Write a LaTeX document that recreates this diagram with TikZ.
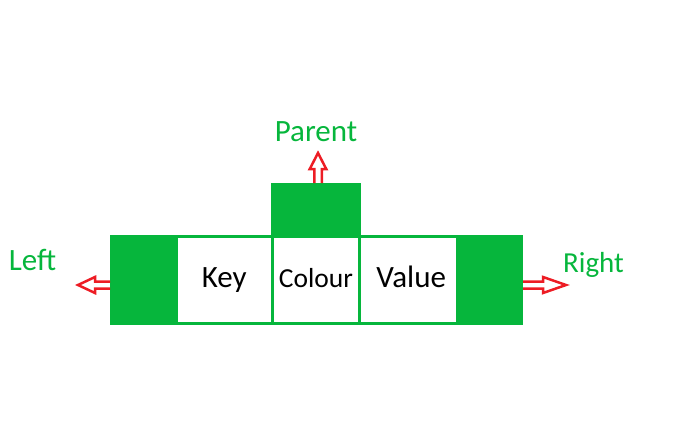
\documentclass[tikz,border=0pt]{standalone}
\usepackage{fontspec}
\setmainfont{Carlito}
\definecolor{nodegreen}{RGB}{6,182,60}
\definecolor{linkred}{RGB}{237,28,36}

\tikzset{
  block/.style={fill=nodegreen, minimum height=90pt, inner sep=0pt, outer sep=0pt},
  cell/.style={draw=nodegreen, line width=3pt, minimum height=87pt, inner sep=0pt, outer sep=0pt,
    text height=20pt, text depth=6pt, font=\fontsize{31}{33}\selectfont},
  tag/.style={text=nodegreen, anchor=base, inner sep=0pt, font=\fontsize{31}{33}\selectfont},
  hollow/.style={draw=linkred, line width=2.5pt, line join=miter}
}

\begin{document}
\begin{tikzpicture}[x=1pt,y=-1pt]
\useasboundingbox (0,0) rectangle (691,442);

% the three middle cells
\node[cell, minimum width=96.5pt] (key) at (224.25,280) {Key};
\node[cell, minimum width=87pt, font=\fontsize{27.5}{29}\selectfont] (colour) at (316,280) {Colour};
\node[cell, minimum width=97.5pt] (value) at (408.25,280) {\hspace{6pt}Value};

% pointer blocks
\node[block, minimum width=67pt] (leftblk) at (143.5,280) {};
\node[block, minimum width=66pt] (rightblk) at (490,280) {};
\node[block, minimum width=90pt, minimum height=54pt] (parentblk) at (316,210) {};

% labels
\node[tag] (parent) at (316,141) {Parent};
\node[tag] (left) at (32.5,270) {Left};
\node[tag, font=\fontsize{29}{31}\selectfont] (right) at (593.5,272) {Right};

% hollow arrows
\draw[hollow] ([xshift=-1.75pt]parentblk.north) -- ++(0,-14) -- ++(-4.5,0) -- ++(8.25,-16)
  -- ++(8.25,16) -- ++(-4.5,0) -- ++(0,14);
\draw[hollow] ([yshift=-1.5pt]leftblk.west) -- ++(-15,0) -- ++(0,-4.5) -- ++(-17,8)
  -- ++(17,8) -- ++(0,-4.5) -- ++(15,0);
\draw[hollow] ([yshift=-1.5pt]rightblk.east) -- ++(20,0) -- ++(0,-4.5) -- ++(23,8)
  -- ++(-23,8) -- ++(0,-4.5) -- ++(-20,0);
\end{tikzpicture}
\end{document}
